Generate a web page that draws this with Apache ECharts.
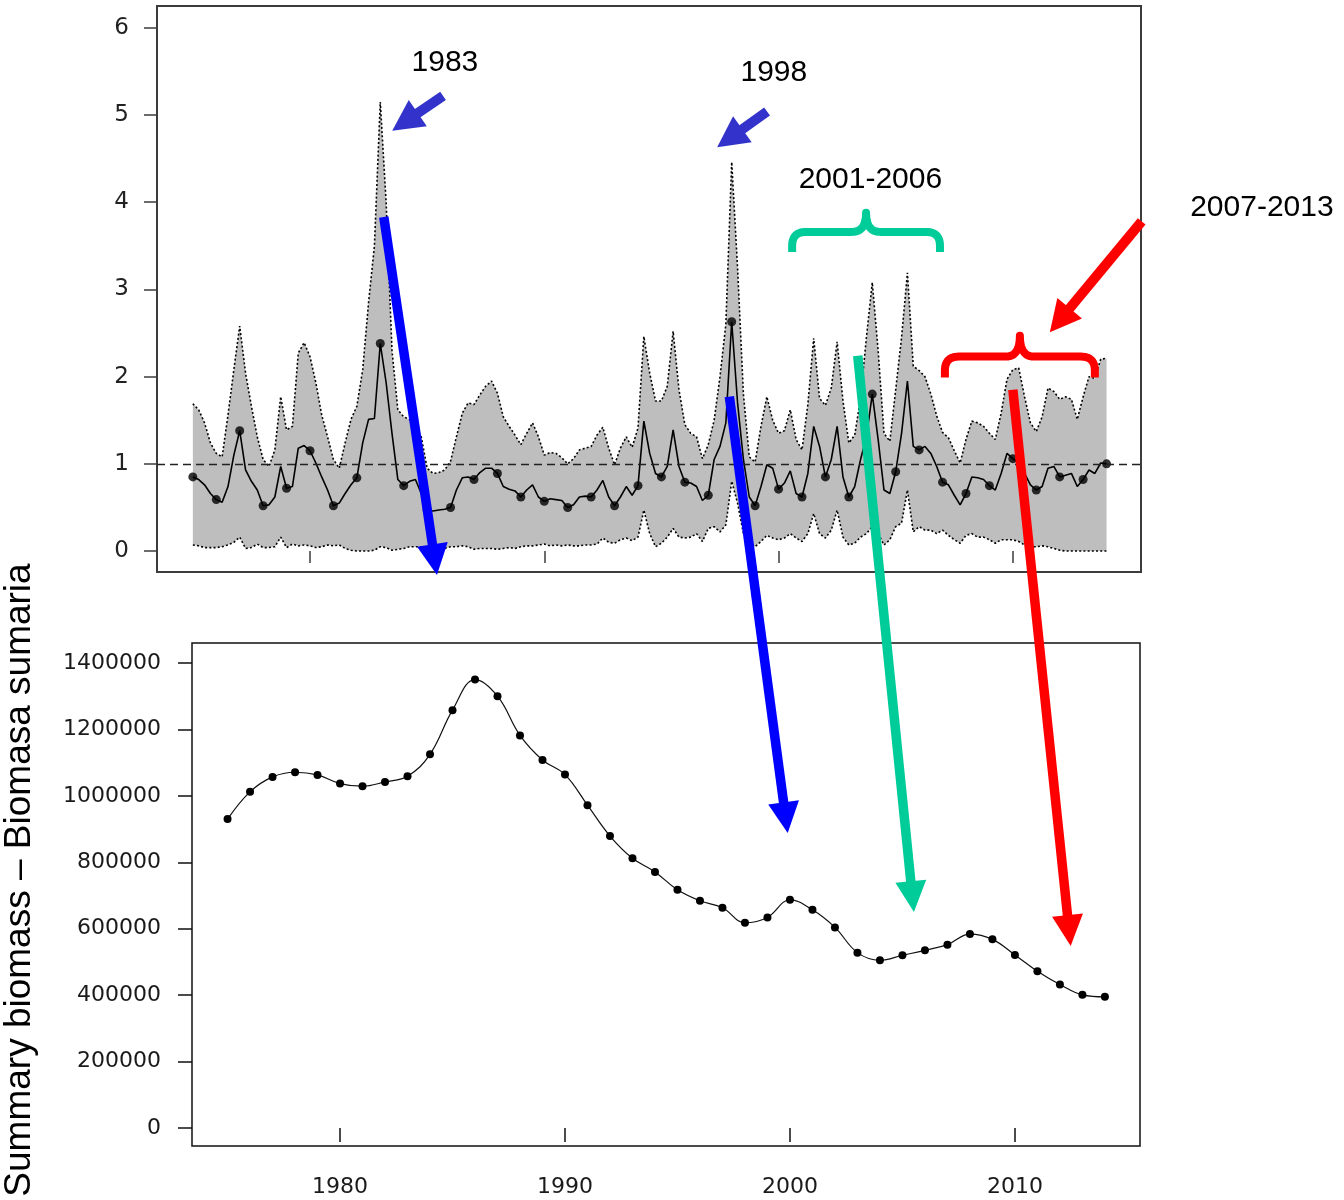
<!DOCTYPE html>
<html>
<head>
<meta charset="utf-8">
<title>Recruitment and summary biomass</title>
<script src="https://cdn.jsdelivr.net/npm/echarts@6/dist/echarts.min.js"></script>
<style>
  html, body { margin: 0; padding: 0; background: #fff; }
  #chart { width: 1344px; height: 1200px; }
</style>
</head>
<body>
<div id="chart"></div>
<script>
// Annual time steps (dots) for both panels
const years = [1975, 1976, 1977, 1978, 1979, 1980, 1981, 1982, 1983, 1984,
  1985, 1986, 1987, 1988, 1989, 1990, 1991, 1992, 1993, 1994,
  1995, 1996, 1997, 1998, 1999, 2000, 2001, 2002, 2003, 2004,
  2005, 2006, 2007, 2008, 2009, 2010, 2011, 2012, 2013, 2014];

// Quarterly recruitment estimate (relative), 1975.00 .. 2014.00
const recEst = [
  0.85, 0.82, 0.76, 0.66,  0.59, 0.56, 0.74, 1.10,  1.38, 0.93, 0.80, 0.70,
  0.52, 0.53, 0.62, 0.97,  0.72, 0.74, 1.18, 1.21,  1.15, 1.01, 0.85, 0.70,
  0.52, 0.55, 0.66, 0.76,  0.84, 1.24, 1.51, 1.52,  2.38, 1.93, 1.35, 0.82,
  0.75, 0.80, 0.82, 0.66,  0.47, 0.46, 0.47, 0.48,  0.50, 0.70, 0.84, 0.85,
  0.82, 0.90, 0.95, 0.95,  0.89, 0.74, 0.71, 0.69,  0.62, 0.70, 0.76, 0.62,
  0.57, 0.60, 0.59, 0.58,  0.50, 0.53, 0.62, 0.63,  0.62, 0.70, 0.81, 0.62,
  0.52, 0.62, 0.74, 0.64,  0.75, 1.49, 1.12, 0.89,  0.85, 0.97, 1.39, 0.97,
  0.79, 0.78, 0.74, 0.58,  0.64, 1.05, 1.20, 1.47,  2.63, 1.70, 1.05, 0.62,
  0.52, 0.74, 0.99, 0.95,  0.71, 0.78, 0.92, 0.66,  0.62, 0.89, 1.43, 1.20,
  0.85, 1.05, 1.43, 0.85,  0.62, 0.74, 1.05, 1.31,  1.80, 1.28, 0.70, 0.66,
  0.91, 1.35, 1.95, 1.20,  1.16, 1.20, 1.12, 0.97,  0.79, 0.76, 0.64, 0.53,
  0.66, 0.85, 0.84, 0.82,  0.75, 0.70, 0.89, 1.12,  1.06, 1.01, 0.89, 0.76,
  0.70, 0.74, 0.95, 0.97,  0.85, 0.87, 0.89, 0.74,  0.82, 0.93, 0.89, 1.01,
  1.00
];

// Upper confidence bound of the quarterly recruitment
const recUpper = [
  1.69, 1.62, 1.47, 1.24,  1.12, 1.08, 1.56, 2.08,  2.58, 2.04, 1.66, 1.31,
  1.05, 0.97, 1.16, 1.77,  1.39, 1.43, 2.27, 2.39,  2.23, 1.93, 1.56, 1.31,
  1.05, 0.95, 1.24, 1.51,  1.66, 2.08, 2.85, 3.50,  5.15, 4.00, 2.30, 1.62,
  1.54, 1.51, 1.41, 1.31,  0.95, 0.89, 0.90, 0.93,  1.03, 1.31, 1.58, 1.70,
  1.68, 1.79, 1.89, 1.95,  1.81, 1.54, 1.43, 1.33,  1.22, 1.35, 1.47, 1.31,
  1.10, 1.13, 1.12, 1.07,  1.00, 1.06, 1.16, 1.18,  1.20, 1.33, 1.42, 1.18,
  0.99, 1.18, 1.31, 1.19,  1.41, 2.46, 2.04, 1.72,  1.72, 1.89, 2.52, 1.85,
  1.45, 1.35, 1.31, 1.06,  1.22, 1.50, 2.00, 2.60,  4.46, 3.25, 1.80, 1.08,
  1.02, 1.43, 1.77, 1.50,  1.35, 1.38, 1.62, 1.28,  1.16, 1.68, 2.44, 1.75,
  1.67, 1.87, 2.40, 1.72,  1.24, 1.33, 1.75, 2.45,  3.08, 2.30, 1.35, 1.26,
  1.85, 2.45, 3.19, 2.12,  2.07, 2.00, 1.80, 1.55,  1.36, 1.30, 1.15, 1.01,
  1.28, 1.49, 1.47, 1.43,  1.35, 1.28, 1.58, 1.97,  2.08, 2.10, 1.77, 1.47,
  1.37, 1.54, 1.87, 1.83,  1.74, 1.77, 1.74, 1.51,  1.77, 2.00, 1.98, 2.20,
  2.21
];

// Lower confidence bound of the quarterly recruitment
const recLower = [
  0.07, 0.06, 0.04, 0.04,  0.04, 0.05, 0.07, 0.10,  0.16, 0.03, 0.04, 0.08,
  0.04, 0.04, 0.05, 0.16,  0.04, 0.08, 0.06, 0.07,  0.06, 0.04, 0.05, 0.07,
  0.06, 0.07, 0.03, 0.01,  0.00, 0.00, 0.00, 0.01,  0.05, 0.04, 0.01, 0.02,
  0.03, 0.05, 0.05, 0.05,  0.04, 0.02, 0.02, 0.03,  0.05, 0.05, 0.06, 0.05,
  0.02, 0.03, 0.03, 0.03,  0.02, 0.03, 0.04, 0.03,  0.05, 0.06, 0.06, 0.07,
  0.08, 0.06, 0.07, 0.06,  0.07, 0.06, 0.06, 0.07,  0.07, 0.08, 0.15, 0.10,
  0.09, 0.13, 0.15, 0.12,  0.16, 0.47, 0.20, 0.05,  0.09, 0.16, 0.26, 0.16,
  0.15, 0.16, 0.20, 0.11,  0.26, 0.28, 0.22, 0.30,  0.80, 0.55, 0.20, 0.09,
  0.05, 0.11, 0.18, 0.15,  0.13, 0.15, 0.20, 0.15,  0.11, 0.20, 0.43, 0.20,
  0.15, 0.24, 0.47, 0.16,  0.07, 0.09, 0.16, 0.20,  0.28, 0.20, 0.07, 0.13,
  0.28, 0.32, 0.70, 0.22,  0.28, 0.24, 0.24, 0.20,  0.24, 0.18, 0.13, 0.09,
  0.18, 0.20, 0.16, 0.16,  0.13, 0.09, 0.13, 0.13,  0.13, 0.11, 0.07, 0.05,
  0.05, 0.06, 0.05, 0.03,  0.01, 0.00, 0.00, 0.00,  0.00, 0.00, 0.00, 0.00,
  0.00
];

// Summary biomass (t), one value per year
const biomass = [
  930000, 1012000, 1057000, 1071000, 1063000, 1037000, 1029000, 1042000, 1059000, 1125000,
  1258000, 1350000, 1300000, 1182000, 1108000, 1064000, 972000, 879000, 812000, 771000,
  717000, 684000, 663000, 618000, 634000, 687000, 657000, 604000, 528000, 505000,
  520000, 535000, 552000, 584000, 568000, 521000, 472000, 432000, 401000, 395000
];

// Tick positions and labels
const yearTicks = [1980, 1990, 2000, 2010];
const recTicks = [0, 1, 2, 3, 4, 5, 6];
const biomassTicks = [0, 200000, 400000, 600000, 800000, 1000000, 1200000, 1400000];
const recReference = 1;

// Annotation texts (top-panel coordinates: year, relative recruitment)
const noteTexts = ['1983', '1998', '2001-2006', '2007-2013'];
const notePos = [[1985.76, 5.60], [1999.80, 5.49], [2003.92, 4.26], [2020.63, 3.94]];

// Braces over the highlighted periods: [left year, right year, end, bar, cusp]
const braceSpans = [[2000.58, 2006.89, 3.43, 3.66, 3.88], [2007.10, 2013.50, 1.99, 2.23, 2.47]];
const braceColors = ['#00CC99', '#FF0000'];

// Arrows linking the recruitment events to the biomass response
// from: top panel point; to: [year, value] in the panel given by toGrid
const linkArrows = [
  { color: '#0000FF', from: [1983.15, 3.83], to: [1985.42, -0.275], toGrid: 0 },
  { color: '#0000FF', from: [1997.90, 1.77], to: [1999.90, 888000], toGrid: 1 },
  { color: '#00CC99', from: [2003.38, 2.24], to: [2005.51, 650000], toGrid: 1 },
  { color: '#FF0000', from: [2010.00, 1.85], to: [2012.48, 548000], toGrid: 1 }
];
// Short pointer arrows inside the top panel
const pointerArrows = [
  { color: '#3333CC', from: [1985.68, 5.22], to: [1983.51, 4.82] },
  { color: '#3333CC', from: [1999.51, 5.04], to: [1997.38, 4.63] },
  { color: '#FF0000', from: [2015.50, 3.78], to: [2011.58, 2.51] }
];

const recTimes = recEst.map((_, i) => years[0] + i / 4);
const labelFont = '"DejaVu Sans", "Liberation Sans", Arial, sans-serif';
const noteFont = '"Liberation Sans", Arial, Helvetica, sans-serif';

const chart = echarts.init(document.getElementById('chart'), null, { renderer: 'canvas' });

const option = {
  animation: false,
  backgroundColor: '#ffffff',
  grid: [
    { left: 157, top: 6, width: 984, height: 566, show: true, borderColor: '#3c3c3c', borderWidth: 2, backgroundColor: 'transparent' },
    { left: 192, top: 643, width: 948, height: 503, show: true, borderColor: '#111111', borderWidth: 1.5, backgroundColor: 'transparent' }
  ],
  xAxis: [
    {
      type: 'value', gridIndex: 0, min: 1973.47, max: 2015.47,
      axisLine: { show: false }, splitLine: { show: false },
      axisLabel: { show: false },
      axisTick: { show: true, customValues: yearTicks, length: 12, lineStyle: { color: '#3c3c3c', width: 1.5 } }
    },
    {
      type: 'value', gridIndex: 1, min: 1973.42, max: 2015.56,
      axisLine: { show: false }, splitLine: { show: false },
      axisLabel: { customValues: yearTicks, margin: 30, fontFamily: labelFont, fontSize: 22, color: '#1a1a1a', formatter: v => String(v) },
      axisTick: { show: true, customValues: yearTicks, length: 14, lineStyle: { color: '#111', width: 1.5 } }
    }
  ],
  yAxis: [
    {
      type: 'value', gridIndex: 0, min: -0.24, max: 6.25,
      axisLine: { show: false }, splitLine: { show: false },
      axisLabel: { customValues: recTicks, margin: 28, fontFamily: labelFont, fontSize: 23, color: '#222', formatter: v => String(v) },
      axisTick: { show: true, customValues: recTicks, length: 13, lineStyle: { color: '#3c3c3c', width: 1.5 } }
    },
    {
      type: 'value', gridIndex: 1, min: -54200, max: 1460200,
      axisLine: { show: false }, splitLine: { show: false },
      axisLabel: { customValues: biomassTicks, margin: 31, fontFamily: labelFont, fontSize: 22, color: '#1a1a1a', formatter: v => String(v) },
      axisTick: { show: true, customValues: biomassTicks, length: 14, lineStyle: { color: '#111', width: 1.5 } }
    }
  ],
  series: [
    {
      // grey confidence band between the bounds
      type: 'custom', name: 'band', xAxisIndex: 0, yAxisIndex: 0, z: 1, silent: true,
      data: recTimes.map((t, i) => [t, recLower[i], recUpper[i]]),
      encode: { x: 0, y: [1, 2] },
      renderItem: function (params, api) {
        if (params.dataIndex !== 0) return null;
        const pts = [];
        for (let i = 0; i < recTimes.length; i++) pts.push(api.coord([recTimes[i], recUpper[i]]));
        for (let i = recTimes.length - 1; i >= 0; i--) pts.push(api.coord([recTimes[i], recLower[i]]));
        return { type: 'polygon', shape: { points: pts }, style: { fill: '#BEBEBE' } };
      }
    },
    {
      type: 'line', name: 'upper', xAxisIndex: 0, yAxisIndex: 0, z: 2, silent: true,
      data: recTimes.map((t, i) => [t, recUpper[i]]), symbol: 'none',
      lineStyle: { color: '#000', width: 1.6, type: [2, 2.2] }
    },
    {
      type: 'line', name: 'lower', xAxisIndex: 0, yAxisIndex: 0, z: 2, silent: true,
      data: recTimes.map((t, i) => [t, recLower[i]]), symbol: 'none',
      lineStyle: { color: '#000', width: 1.6, type: [2, 2.2] }
    },
    {
      type: 'line', name: 'estimate', xAxisIndex: 0, yAxisIndex: 0, z: 3, silent: true,
      data: recTimes.map((t, i) => [t, recEst[i]]), symbol: 'none',
      lineStyle: { color: '#000', width: 1.6 },
      markLine: {
        silent: true, symbol: ['none', 'none'], label: { show: false },
        lineStyle: { color: '#222', width: 1.3, type: [8, 5] },
        data: [{ yAxis: recReference }]
      }
    },
    {
      type: 'scatter', name: 'annual', xAxisIndex: 0, yAxisIndex: 0, z: 4, silent: true,
      data: years.map((y, i) => [y, recEst[i * 4]]),
      symbol: 'circle', symbolSize: 9, itemStyle: { color: '#000' }
    },
    {
      type: 'line', name: 'biomass', xAxisIndex: 1, yAxisIndex: 1, z: 3, silent: true,
      data: years.map((y, i) => [y, biomass[i]]),
      smooth: 0.4, symbol: 'circle', symbolSize: 8, showSymbol: true,
      itemStyle: { color: '#000' }, lineStyle: { color: '#111', width: 1.2 }
    }
  ]
};

chart.setOption(option);

// ---- annotation overlay, positioned through the panels' coordinate systems ----
const toPx = (g, p) => chart.convertToPixel({ gridIndex: g }, p);

function arrowShapes(p0, p1, color, shaftW, headLen, headW) {
  const dx = p1[0] - p0[0], dy = p1[1] - p0[1];
  const len = Math.hypot(dx, dy);
  const ux = dx / len, uy = dy / len, nx = -uy, ny = ux;
  const bx = p1[0] - ux * headLen, by = p1[1] - uy * headLen;
  const hs = shaftW / 2, hh = headW / 2;
  const ex = bx + ux, ey = by + uy;
  return [
    { type: 'polygon', z: 100, silent: true, style: { fill: color },
      shape: { points: [[p0[0] + nx * hs, p0[1] + ny * hs], [ex + nx * hs, ey + ny * hs], [ex - nx * hs, ey - ny * hs], [p0[0] - nx * hs, p0[1] - ny * hs]] } },
    { type: 'polygon', z: 100, silent: true, style: { fill: color },
      shape: { points: [[p1[0], p1[1]], [bx + nx * hh, by + ny * hh], [bx - nx * hh, by - ny * hh]] } }
  ];
}

function bracePoints(xl, xr, yEnd, yBar, yCusp, r) {
  const xm = (xl + xr) / 2;
  const pts = [[xl, yEnd], [xl, yBar + r]];
  const quad = (a, c, b) => {
    for (let k = 1; k <= 14; k++) {
      const t = k / 14, m = 1 - t;
      pts.push([m * m * a[0] + 2 * m * t * c[0] + t * t * b[0], m * m * a[1] + 2 * m * t * c[1] + t * t * b[1]]);
    }
  };
  quad([xl, yBar + r], [xl, yBar], [xl + r, yBar]);
  pts.push([xm - r, yBar]);
  quad([xm - r, yBar], [xm, yBar], [xm, yCusp]);
  quad([xm, yCusp], [xm, yBar], [xm + r, yBar]);
  pts.push([xr - r, yBar]);
  quad([xr - r, yBar], [xr, yBar], [xr, yBar + r]);
  pts.push([xr, yEnd]);
  return pts;
}

const overlay = [];

braceSpans.forEach((b, i) => {
  const l = toPx(0, [b[0], b[2]]);
  const r = toPx(0, [b[1], b[2]]);
  const bar = toPx(0, [b[0], b[3]]);
  const cusp = toPx(0, [b[0], b[4]]);
  overlay.push({
    type: 'polyline', z: 90, silent: true,
    shape: { points: bracePoints(l[0], r[0], l[1], bar[1], cusp[1], 14) },
    style: { stroke: braceColors[i], lineWidth: 8, fill: null, lineJoin: 'round', lineCap: 'butt' }
  });
});

linkArrows.forEach(a => {
  overlay.push(...arrowShapes(toPx(0, a.from), toPx(a.toGrid, a.to), a.color, 9.5, 31, 31));
});
pointerArrows.forEach(a => {
  overlay.push(...arrowShapes(toPx(0, a.from), toPx(0, a.to), a.color, 10, 31, 32));
});

noteTexts.forEach((t, i) => {
  const p = toPx(0, notePos[i]);
  overlay.push({
    type: 'text', z: 110, silent: true, x: p[0], y: p[1],
    style: { text: t, font: 'normal 30px ' + noteFont, fill: '#000', textAlign: 'center', textVerticalAlign: 'middle' }
  });
});

// vertical axis title shared by the figure
overlay.push({
  type: 'text', z: 110, silent: true, x: 20, y: 880, rotation: Math.PI / 2,
  style: { text: 'Summary biomass \u2013 Biomasa sumaria', font: 'normal 37px ' + noteFont, fill: '#000', textAlign: 'center', textVerticalAlign: 'middle' }
});

chart.setOption({ graphic: { elements: overlay } });
</script>
</body>
</html>
